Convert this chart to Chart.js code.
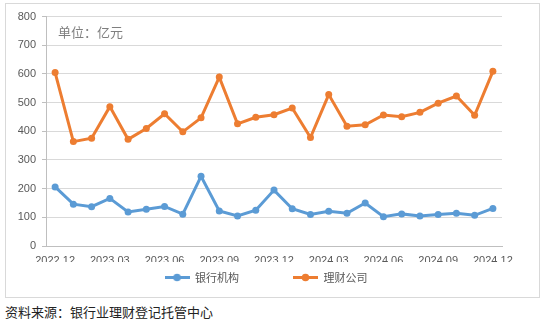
<!DOCTYPE html>
<html><head><meta charset="utf-8">
<script src="https://cdn.jsdelivr.net/npm/chart.js@4"></script>
<style>
body{margin:0;background:#fff;width:550px;height:324px;position:relative;overflow:hidden;}
#box{position:absolute;left:5px;top:3px;width:535px;height:295px;border:1px solid #d9d9d9;box-sizing:border-box;background:#fff;}
#wrap{position:absolute;left:0;top:0;width:533px;height:293px;}
#unit{position:absolute;left:58px;top:25px;font-size:13px;line-height:13px;font-family:"Noto Sans CJK SC";color:#7f7f7f;white-space:nowrap;}
#src{position:absolute;left:5px;top:305px;font-size:13px;line-height:13px;font-family:"Noto Sans CJK SC";color:#222;white-space:nowrap;}
</style></head>
<body>
<div id="box"><div id="wrap"><canvas id="c"></canvas></div></div>
<div id="unit">单位：亿元</div>
<div id="src">资料来源：银行业理财登记托管中心</div>
<script>
const months = ['2022.12','2023.01','2023.02','2023.03','2023.04','2023.05','2023.06','2023.07','2023.08','2023.09','2023.10','2023.11','2023.12','2024.01','2024.02','2024.03','2024.04','2024.05','2024.06','2024.07','2024.08','2024.09','2024.10','2024.11','2024.12'];
const bankValues = [206,146,137,166,119,128,138,111,243,122,105,125,195,130,110,121,114,150,102,112,105,110,114,107,131];
const wmcValues = [605,364,376,486,372,410,461,398,447,589,426,449,458,481,378,528,418,423,457,451,466,498,523,456,609];
const seriesNames = ['银行机构','理财公司'];
const yTicks = [0,100,200,300,400,500,600,700,800];

const BLUE = '#5B9BD5', ORANGE = '#ED7D31';
function marker(color){
  const c = document.createElement('canvas');
  c.width = 25; c.height = 9;
  const g = c.getContext('2d');
  g.strokeStyle = color; g.lineWidth = 3;
  g.beginPath(); g.moveTo(0,4.5); g.lineTo(25,4.5); g.stroke();
  g.fillStyle = color; g.beginPath(); g.arc(12.5,4.5,3.8,0,Math.PI*2); g.fill();
  return c;
}
const markers = [marker(BLUE), marker(ORANGE)];

const legendShift = {
  id: 'legendShift',
  afterLayout(chart){ if (chart.legend){ chart.legend.left -= 8; chart.legend.right -= 8; } }
};

new Chart(document.getElementById('c'), {
  type: 'line',
  plugins: [legendShift],
  data: {
    labels: months,
    datasets: [
      {label: seriesNames[0], data: bankValues, borderColor: BLUE, backgroundColor: BLUE, borderWidth: 3, pointRadius: 3.5, pointBorderWidth: 0, pointBackgroundColor: BLUE, tension: 0},
      {label: seriesNames[1], data: wmcValues, borderColor: ORANGE, backgroundColor: ORANGE, borderWidth: 3, pointRadius: 3.5, pointBorderWidth: 0, pointBackgroundColor: ORANGE, tension: 0}
    ]
  },
  options: {
    responsive: true, maintainAspectRatio: false, animation: false,
    layout: {padding: {left: 0, right: 37, top: 11, bottom: 4}},
    plugins: {
      tooltip: {enabled: false},
      legend: {
        position: 'bottom', fullSize: false,
        labels: {
          usePointStyle: true, pointStyleWidth: 25, padding: 10,
          color: '#595959', font: {size: 11, family: '"Noto Sans CJK SC"'},
          generateLabels: (chart) => chart.data.datasets.map((d, i) => ({
            text: i === 0 ? d.label + '\u3000\u3000\u3000\u3000' : d.label,
            pointStyle: markers[i], fillStyle: d.borderColor, strokeStyle: d.borderColor,
            lineWidth: 0, hidden: false, datasetIndex: i, fontColor: '#595959'
          }))
        }
      }
    },
    scales: {
      x: {
        offset: true,
        grid: {display: false, drawTicks: false},
        border: {display: true, color: '#bfbfbf', width: 1},
        ticks: {autoSkip: false, maxRotation: 0, padding: 8, color: '#595959', font: {size: 11, family: '"Liberation Sans"'},
          callback: function(v, i){ return i % 3 === 0 ? months[i] : ''; }},
        afterFit: (s) => { s.height = 16; }
      },
      y: {
        min: 0, max: 800,
        afterBuildTicks: (s) => { s.ticks = yTicks.map(v => ({value: v})); },
        grid: {color: '#d9d9d9', lineWidth: 1, tickLength: 4, tickColor: '#bfbfbf'},
        border: {display: true, color: '#bfbfbf', width: 1},
        ticks: {padding: 6, color: '#595959', font: {size: 11, family: '"Liberation Sans"'}},
        afterFit: (s) => { s.width = 40; }
      }
    }
  }
});
</script>
</body></html>
